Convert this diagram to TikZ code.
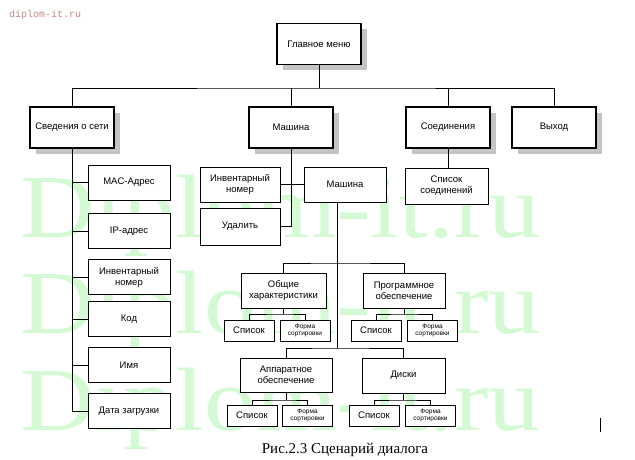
\documentclass[tikz,border=0pt]{standalone}
\usepackage{fontspec}
\setmainfont{Liberation Sans}
\newfontfamily\serifcap{Liberation Serif}
\newfontfamily\monof{Liberation Mono}
\usetikzlibrary{shadows}
\definecolor{wm}{HTML}{D4FAD4}
\definecolor{shd}{HTML}{C4C4C4}
\begin{document}
\begin{tikzpicture}[x=1pt,y=-1pt,
  box/.style={draw, line width=0.8pt, fill=white, inner sep=1pt, align=center, font=\fontsize{9.5}{11}\selectfont},
  top/.style={box, line width=1.8pt, minimum width=84pt, minimum height=41pt,
     drop shadow={shadow xshift=6pt, shadow yshift=-6pt, fill=shd, opacity=1}},
  col/.style={box, minimum width=82pt, minimum height=35pt},
  sm/.style={box, minimum width=50pt, minimum height=21pt},
  tiny/.style={sm, font=\fontsize{6.5}{7.5}\selectfont},
  ln/.style={line width=0.8pt}]
\useasboundingbox (0,0) rectangle (635,460);
% watermark
\foreach \yy/\nm in {237/w1,333/w2,430/w3}
  \node[anchor=base west, text=wm, font=\serifcap\fontsize{90}{90}\selectfont, xscale=1.15, inner sep=0pt] (\nm) at (20,\yy) {Diplom-it.ru};
\node[anchor=base west, text=red!35!gray!70, font=\monof\fontsize{10}{12}\selectfont, inner sep=0pt] (site) at (9,18) {diplom-it.ru};
% top level
\node[top] (gm) at (319,44) {Главное меню};
\node[top] (sv) at (72,127.5) {Сведения о сети};
\node[top] (ma) at (291,127.5) {Машина};
\node[top] (so) at (448,127.5) {Соединения};
\node[top] (vy) at (554,127.5) {Выход};
\coordinate (b) at (319,88);
\draw[ln] (gm.south) -- (b);
\draw[ln] (sv.north) |- (b) -| (vy.north);
\draw[ln] (ma.north) -- (ma.north |- b);
\draw[ln] (so.north) -- (so.north |- b);
% left column
\node[col] (mac) at (129,182.5) {MAC-Адрес};
\node[col] (ip) at (129,231) {IP-адрес};
\node[col] (inv) at (129,277) {Инвентарный\\номер};
\node[col] (kod) at (129,319) {Код};
\node[col] (im) at (129,365) {Имя};
\node[col] (dz) at (129,411) {Дата загрузки};
\foreach \n in {mac,ip,inv,kod,im,dz} \draw[ln] (sv.south) |- (\n.west);
% machine
\node[col, minimum width=80pt] (inv2) at (240,184.5) {Инвентарный\\номер};
\node[col] (ma2) at (345,184.5) {Машина};
\node[col, minimum width=80pt, minimum height=37pt] (ud) at (240,226.5) {Удалить};
\draw[ln] (inv2.east) -- (ma2.west);
\draw[ln] (ma.south) |- (ud.east);
% connections
\node[col, minimum width=83pt, minimum height=36pt] (sp) at (446.5,186) {Список\\соединений};
\draw[ln] (so.south) -- (so.south |- sp.north);
% sub tree
\coordinate (t1) at (337,263);
\coordinate (t2) at (337,348);
\draw[ln] (ma2.south -| t1) -- (t2);
\node[col, minimum width=85pt] (ob) at (283.5,290.5) {Общие\\характеристики};
\node[col] (pr) at (404,290.5) {Программное\\обеспечение};
\node[col, minimum width=92pt, minimum height=34pt] (ap) at (286,375) {Аппаратное\\обеспечение};
\node[col, minimum width=83pt] (di) at (403.5,375.5) {Диски};
\draw[ln] (ob.north) |- (t1) -| (pr.north);
\draw[ln] (ap.north) |- (t2) -| (di.north);
% leaves
\node[sm] (s1) at (249,330.5) {Список};
\node[tiny] (f1) at (305,330.5) {Форма\\сортировки};
\node[sm] (s2) at (376,330.5) {Список};
\node[tiny] (f2) at (432.5,330.5) {Форма\\сортировки};
\node[sm] (s3) at (252,415.5) {Список};
\node[tiny] (f3) at (307.5,415.5) {Форма\\сортировки};
\node[sm] (s4) at (374,415.5) {Список};
\node[tiny] (f4) at (430.5,415.5) {Форма\\сортировки};
\coordinate (j1) at (283.5,314);
\coordinate (j2) at (404,314);
\coordinate (j3) at (286,400);
\coordinate (j4) at (403.5,400);
\draw[ln] (ob.south) -- (j1); \draw[ln] (s1.north) |- (j1) -| (f1.north);
\draw[ln] (pr.south) -- (j2); \draw[ln] (s2.north) |- (j2) -| (f2.north);
\draw[ln] (ap.south) -- (j3); \draw[ln] (s3.north) |- (j3) -| (f3.north);
\draw[ln] (di.south) -- (j4); \draw[ln] (s4.north) |- (j4) -| (f4.north);
% caption
\node[font=\serifcap\fontsize{15}{17}\selectfont] (cap) at (345,450) {Рис.2.3 Сценарий диалога};
\coordinate (m1) at (600,418); \coordinate (m2) at (600,432);
\draw[line width=1pt] (m1) -- (m2);
\end{tikzpicture}
\end{document}
